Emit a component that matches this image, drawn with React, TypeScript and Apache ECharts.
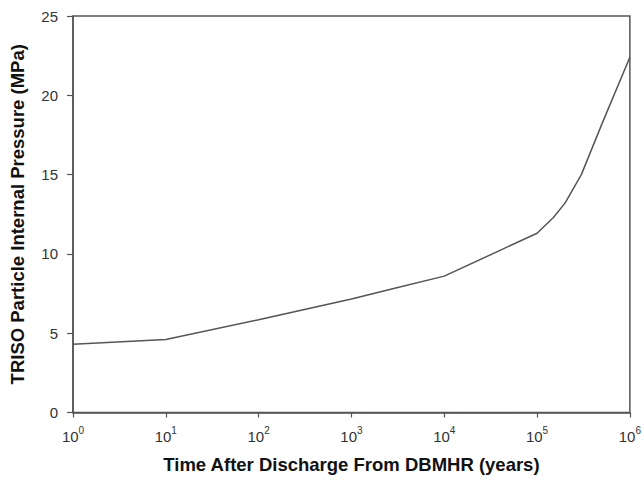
import React, { useEffect, useRef } from "react";
import * as echarts from "echarts";

const timeYears = [1, 10, 100, 1000, 3000, 10000, 100000, 150000, 200000, 300000, 500000, 1000000];
const pressureMPa = [4.3, 4.6, 5.85, 7.15, 7.85, 8.6, 11.3, 12.3, 13.2, 15.0, 18.2, 22.4];
const yTicks = [0, 5, 10, 15, 20, 25];
const xTitle = "Time After Discharge From DBMHR (years)";
const yTitle = "TRISO Particle Internal Pressure (MPa)";

export default function App() {
  const ref = useRef<HTMLDivElement>(null);
  useEffect(() => {
    if (!ref.current) return;
    const chart = echarts.init(ref.current, null, { renderer: "svg" });
    const font = "'Liberation Sans', Arial, sans-serif";
    chart.setOption({
      animation: false,
      backgroundColor: "#ffffff",
      grid: {
        left: 71.5,
        right: 7.5,
        top: 16,
        bottom: 68.5,
        show: true,
        borderColor: "#555555",
        borderWidth: 1.5,
        backgroundColor: "transparent",
      },
      xAxis: {
        type: "log",
        logBase: 10,
        min: 1,
        max: 1000000,
        name: xTitle,
        nameLocation: "middle",
        nameGap: 42,
        nameMoveOverlap: false,
        nameTextStyle: { fontFamily: font, fontSize: 18.5, fontWeight: "bold", color: "#111" },
        axisLine: { show: true, lineStyle: { color: "#555555", width: 1.5 } },
        axisTick: { show: true, length: 5, lineStyle: { color: "#555555", width: 1.2 } },
        minorTick: { show: false },
        splitLine: { show: false },
        axisLabel: {
          margin: 13,
          fontFamily: font,
          hideOverlap: false,
          formatter: (v: number) => `{b|10}{s|${Math.round(Math.log10(v))}}`,
          rich: {
            b: { fontFamily: font, fontSize: 15, color: "#333", verticalAlign: "bottom", lineHeight: 18 },
            s: { fontFamily: font, fontSize: 10, color: "#333", verticalAlign: "top", lineHeight: 18, padding: [0, 0, 7, 0] },
          },
        },
      },
      yAxis: {
        type: "value",
        min: 0,
        max: 25,
        interval: 5,
        name: yTitle,
        nameLocation: "middle",
        nameGap: 46,
        nameMoveOverlap: false,
        nameTextStyle: { fontFamily: font, fontSize: 18.5, fontWeight: "bold", color: "#111" },
        axisLine: { show: true, lineStyle: { color: "#555555", width: 1.5 } },
        axisTick: { show: true, length: 6, lineStyle: { color: "#555555", width: 1.2 } },
        splitLine: { show: false },
        axisLabel: {
          margin: 15,
          fontFamily: font,
          fontSize: 15,
          color: "#333",
          formatter: (v: number) => (yTicks.includes(v) ? String(v) : ""),
        },
      },
      series: [
        {
          type: "line",
          data: timeYears.map((t, i) => [t, pressureMPa[i]]),
          showSymbol: false,
          symbol: "none",
          smooth: false,
          lineStyle: { color: "#555555", width: 1.5 },
        },
      ],
    });
    return () => chart.dispose();
  }, []);
  return (
    <div
      ref={ref}
      style={{ position: "fixed", left: 0, top: 0, width: 644, height: 481, overflow: "visible" }}
    />
  );
}
